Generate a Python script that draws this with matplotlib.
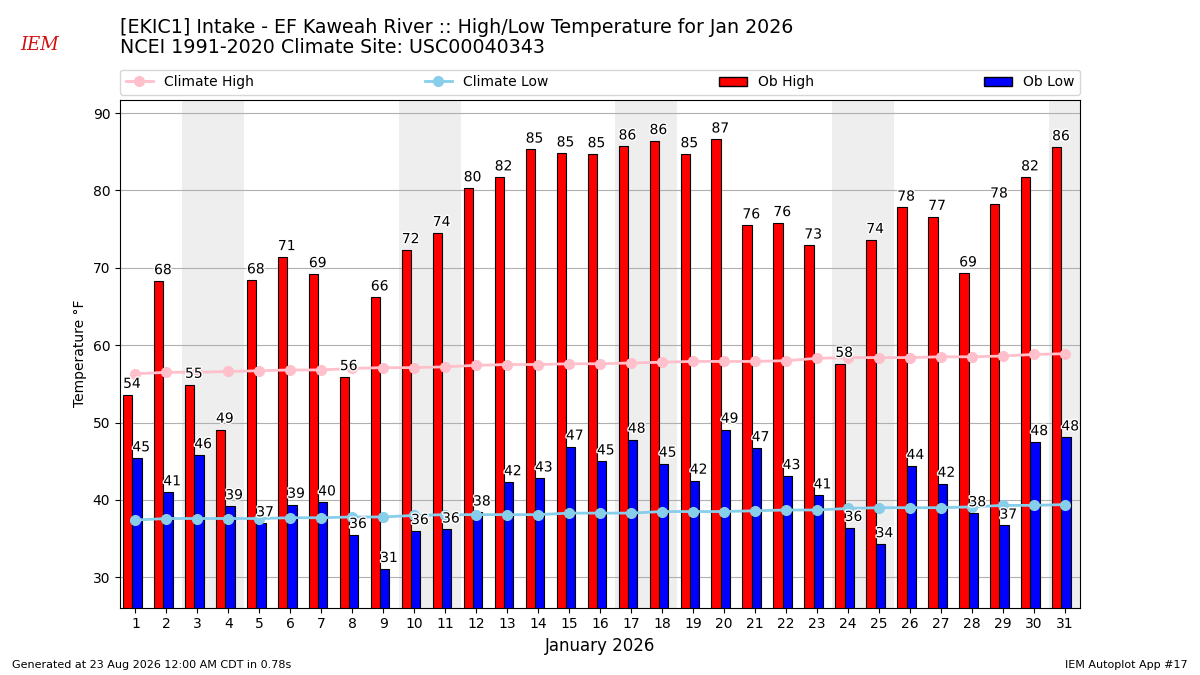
import numpy as np
import matplotlib
matplotlib.use("Agg")
import matplotlib.pyplot as plt
import matplotlib.patheffects as pe
from matplotlib.lines import Line2D
from matplotlib.patches import Patch

days = np.arange(1, 32)
weekend_days = [3, 4, 10, 11, 17, 18, 24, 25, 31]

ob_high = [53.6, 68.3, 54.9, 49.1, 68.4, 71.4, 69.2, 55.9, 66.2, 72.3,
           74.5, 80.3, 81.7, 85.3, 84.8, 84.7, 85.7, 86.4, 84.7, 86.6,
           75.5, 75.8, 72.9, 57.6, 73.6, 77.8, 76.6, 69.3, 78.2, 81.7, 85.6]
ob_low = [45.4, 41.0, 45.8, 39.2, 37.0, 39.4, 39.7, 35.5, 31.1, 36.0,
          36.2, 38.4, 42.3, 42.8, 46.9, 45.0, 47.8, 44.7, 42.5, 49.1,
          46.7, 43.1, 40.6, 36.4, 34.3, 44.4, 42.1, 38.3, 36.7, 47.5, 48.1]
clim_high = [56.3, 56.5, 56.5, 56.6, 56.7, 56.8, 56.8, 57.0, 57.1, 57.1,
             57.2, 57.4, 57.5, 57.5, 57.6, 57.6, 57.7, 57.8, 57.9, 57.9,
             57.9, 58.0, 58.3, 58.4, 58.4, 58.4, 58.5, 58.5, 58.6, 58.8, 58.9]
clim_low = [37.4, 37.6, 37.6, 37.6, 37.6, 37.7, 37.7, 37.8, 37.8, 38.0,
            38.1, 38.1, 38.1, 38.1, 38.3, 38.3, 38.3, 38.5, 38.5, 38.5,
            38.6, 38.7, 38.7, 38.9, 39.0, 39.0, 39.0, 39.1, 39.3, 39.3, 39.4]

title = ("[EKIC1] Intake - EF Kaweah River :: High/Low Temperature for Jan 2026\n"
         "NCEI 1991-2020 Climate Site: USC00040343")

fig = plt.figure(figsize=(12, 6.75), dpi=100)
ax = fig.add_axes([0.1, 0.1, 0.8, 0.752])

# weekend shading
for d in weekend_days:
    ax.axvspan(d - 0.5, d + 0.5, color="#eeeeee", zorder=0, lw=0)

ax.bar(days - 0.25, ob_high, width=0.3, color="red", edgecolor="black",
       linewidth=0.8, zorder=2)
ax.bar(days + 0.05, ob_low, width=0.3, color="blue", edgecolor="black",
       linewidth=0.8, zorder=2)

ax.plot(days, clim_high, color="pink", marker="o", markersize=7, lw=2, zorder=3)
ax.plot(days, clim_low, color="skyblue", marker="o", markersize=7, lw=2, zorder=3)

stroke = [pe.withStroke(linewidth=2, foreground="white")]
for d, hi, lo in zip(days, ob_high, ob_low):
    ax.text(d - 0.4, hi + 0.5, f"{hi:.0f}", ha="left", va="bottom",
            fontsize=10, zorder=5, path_effects=stroke)
    ax.text(d - 0.1, lo + 0.5, f"{lo:.0f}", ha="left", va="bottom",
            fontsize=10, zorder=5, path_effects=stroke)

ax.set_xlim(0.5, 31.5)
ax.set_ylim(26.1, 91.7)
ax.set_xticks(days)
ax.set_yticks(range(30, 91, 10))
ax.yaxis.grid(True, color="#b0b0b0", zorder=1)
ax.set_axisbelow(True)
ax.set_xlabel("January 2026", fontsize=12)
ax.set_ylabel("Temperature \u00b0F")

handles = [
    Line2D([], [], color="pink", marker="o", markersize=7, lw=2),
    Line2D([], [], color="skyblue", marker="o", markersize=7, lw=2),
    Patch(facecolor="red", edgecolor="black"),
    Patch(facecolor="blue", edgecolor="black"),
]
ax.legend(handles, ["Climate High", "Climate Low", "Ob High", "Ob Low"],
          ncol=4, loc="lower left", bbox_to_anchor=(0, 1.01, 1, 0.05),
          mode="expand", borderaxespad=0, fontsize=10)

fig.text(0.1, 0.915, title, fontsize=13.7, va="bottom", ha="left", linespacing=1.1)
fig.text(0.017, 0.933, "IEM", color="#d01010", fontsize=13, family="serif",
         style="italic", ha="left", va="center")
fig.text(0.01, 0.01, "Generated at 23 Aug 2026 12:00 AM CDT in 0.78s", fontsize=8)
fig.text(0.99, 0.01, "IEM Autoplot App #17", fontsize=8, ha="right")

fig.savefig("out.png", dpi=100)
